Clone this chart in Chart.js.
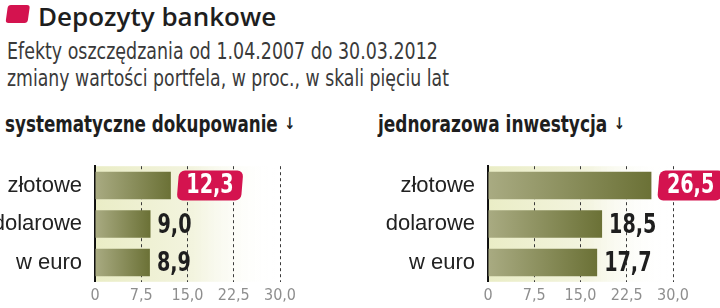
<!DOCTYPE html>
<html><head><meta charset="utf-8">
<script src="https://cdn.jsdelivr.net/npm/chart.js@4/dist/chart.umd.min.js"></script>
<style>
body{margin:0;width:720px;height:308px;background:#fff;overflow:hidden;position:relative;font-family:"DejaVu Sans Condensed",sans-serif;}
.t{position:absolute;white-space:nowrap;color:#222;line-height:1;transform-origin:0 0;}
canvas{position:absolute;}
</style></head><body>
<div class="t" style="left:8px;top:5px;width:22px;height:18px;background:#d4134f;border-radius:3px;transform:skewX(-8deg)"></div>
<div class="t" style="left:38px;top:3px;font:600 26px 'Open Sans',sans-serif;line-height:1;color:#1e1e1e">Depozyty bankowe</div>
<div class="t" style="left:7px;top:40px;font-size:23px;color:#3a3a3a;transform:scaleX(0.843)">Efekty oszczędzania od 1.04.2007 do 30.03.2012</div>
<div class="t" style="left:7px;top:67px;font-size:23px;color:#3a3a3a;transform:scaleX(0.836)">zmiany wartości portfela, w proc., w skali pięciu lat</div>
<div class="t" style="left:5px;top:113px;font-size:23px;font-weight:bold;color:#1e1e1e;transform:scaleX(0.81)">systematyczne dokupowanie<span style="font-family:'DejaVu Sans';font-size:16px;font-weight:bold;margin-left:8px;vertical-align:3px;color:#222">↓</span></div>
<div class="t" style="left:378px;top:113px;font-size:23px;font-weight:bold;color:#1e1e1e;transform:scaleX(0.82)">jednorazowa inwestycja<span style="font-family:'DejaVu Sans';font-size:16px;font-weight:bold;margin-left:8px;vertical-align:3px;color:#222">↓</span></div>
<canvas id="c1" width="360" height="168" style="left:0;top:140px"></canvas>
<canvas id="c2" width="360" height="168" style="left:360px;top:140px"></canvas>
<script>
const categories = ['złotowe', 'dolarowe', 'w euro'];
const systematicValues = [12.3, 9.0, 8.9];
const lumpSumValues = [26.5, 18.5, 17.7];
const tickValues = [0, 7.5, 15, 22.5, 30];
const tickLabels = ['0', '7,5', '15,0', '22,5', '30,0'];
const highlightIndex = 0;

const NARROW = '"DejaVu Sans Condensed",sans-serif';

function barGradient(c) {
  const ch = c.chart, a = ch.chartArea;
  if (!a || c.raw === undefined) return '#878b55';
  const xs = ch.scales.x;
  const x0 = xs.getPixelForValue(0), x1 = xs.getPixelForValue(c.raw);
  const g = ch.ctx.createLinearGradient(x0, 0, x1, 0);
  g.addColorStop(0, '#a9ab82');
  g.addColorStop(1, '#6b7136');
  return g;
}

const bgPlugin = {
  id: 'bg',
  beforeDraw(chart) {
    const a = chart.chartArea, ctx = chart.ctx;
    const g = ctx.createLinearGradient(a.left, 0, a.right - 5, 0);
    g.addColorStop(0, '#eaedc6');
    g.addColorStop(0.55, '#f3f4df');
    g.addColorStop(1, 'rgba(255,255,255,0)');
    ctx.save();
    ctx.fillStyle = g;
    ctx.fillRect(a.left, a.top, a.right - a.left, a.bottom - a.top);
    ctx.restore();
  }
};

const SX = 0.82;
const labelPlugin = {
  id: 'vals',
  afterDatasetsDraw(chart) {
    const ctx = chart.ctx;
    const meta = chart.getDatasetMeta(0);
    const data = chart.data.datasets[0].data;
    meta.data.forEach((bar, i) => {
      const txt = data[i].toFixed(1).replace('.', ',');
      ctx.save();
      ctx.font = 'bold 26px ' + NARROW;
      ctx.textBaseline = 'middle';
      const w = ctx.measureText(txt).width * SX;
      if (i === highlightIndex) {
        const bx = bar.x + 7, bw = w + 17, bh = 30;
        ctx.translate(bx + bw / 2, bar.y);
        ctx.transform(1, 0, -0.08, 1, 0, 0);
        ctx.beginPath();
        ctx.roundRect(-bw / 2, -bh / 2, bw, bh, 6);
        ctx.fillStyle = '#d4134f';
        ctx.fill();
        ctx.setTransform(1, 0, 0, 1, 0, 0);
        ctx.translate(bx + bw / 2, bar.y + 1);
        ctx.scale(SX, 1);
        ctx.fillStyle = '#ffffff';
        ctx.textAlign = 'center';
        ctx.fillText(txt, 0, 0);
      } else {
        ctx.translate(bar.x + 7, bar.y + 2);
        ctx.scale(SX, 1);
        ctx.fillStyle = '#1e1e1e';
        ctx.textAlign = 'left';
        ctx.fillText(txt, 0, 0);
      }
      ctx.restore();
    });
  }
};

function makeChart(id, values, yWidth, padRight) {
  return new Chart(document.getElementById(id), {
    type: 'bar',
    data: {
      labels: categories,
      datasets: [{ data: values, backgroundColor: barGradient, borderWidth: 0,
                   categoryPercentage: 0.71, barPercentage: 1 }]
    },
    options: {
      indexAxis: 'y', responsive: false, animation: false, devicePixelRatio: 1,
      layout: { padding: { top: 7, right: padRight, left: 0, bottom: 0 } },
      plugins: { legend: { display: false }, tooltip: { enabled: false } },
      scales: {
        x: {
          min: 0, max: 30,
          afterBuildTicks: s => { s.ticks = tickValues.map(v => ({ value: v })); },
          afterFit: s => { s.height = 20; },
          ticks: {
            callback: v => tickLabels[tickValues.indexOf(v)],
            color: '#8e8e8e', font: { family: NARROW, size: 16 },
            padding: 4, maxRotation: 0, autoSkip: false
          },
          grid: {
            drawTicks: false, lineWidth: 1,
            color: c => (c.tick && c.tick.value === 0) ? 'rgba(0,0,0,0)' : '#3a3a3a'
          },
          border: { display: false, dash: [3, 3] }
        },
        y: {
          afterFit: s => { s.width = yWidth; },
          ticks: { color: '#222', font: { family: '"Liberation Sans",Arial,sans-serif', size: 22 }, padding: 13 },
          grid: { display: false, drawTicks: false },
          border: { display: true, color: '#111', width: 2 }
        }
      }
    },
    plugins: [bgPlugin, labelPlugin]
  });
}

makeChart('c1', systematicValues, 95, 80);
makeChart('c2', lumpSumValues, 128, 47);
</script>
</body></html>
